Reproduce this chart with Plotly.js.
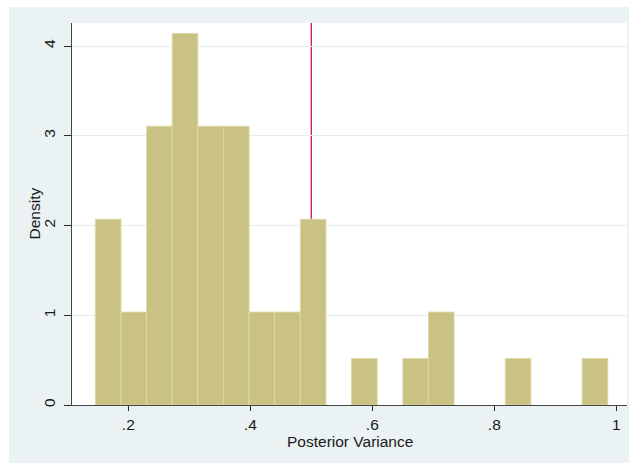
<!DOCTYPE html>
<html>
<head>
<meta charset="utf-8">
<script src="https://cdn.plot.ly/plotly-3.0.1.min.js"></script>
<style>
  html, body { margin: 0; padding: 0; background: #ffffff; }
  #chart { position: absolute; left: 9px; top: 7px; width: 620px; height: 456px; }
</style>
</head>
<body>
<div id="chart"></div>
<script>
// Histogram of posterior variance (20 bins of width 0.042, empty bins omitted)
const binCenters = [0.167, 0.209, 0.251, 0.293, 0.335, 0.377, 0.419, 0.461, 0.503, 0.587, 0.671, 0.713, 0.839, 0.965];
const density    = [2.070, 1.035, 3.106, 4.141, 3.106, 3.106, 1.035, 1.035, 2.070, 0.518, 0.518, 1.035, 0.518, 0.518];
const binWidth = 0.042;

// Reference line
const refValue = 0.5;

// Axis ticks
const xTickVals = [0.2, 0.4, 0.6, 0.8, 1];
const xTickText = ['.2', '.4', '.6', '.8', '1'];
const yTickVals = [0, 1, 2, 3, 4];
const yTickText = ['0', '1', '2', '3', '4'];

const font = { family: '"Liberation Sans", Arial, sans-serif', size: 15.5, color: '#1a1a1a' };

const trace = {
  type: 'bar',
  x: binCenters,
  y: density,
  width: binCenters.map(() => binWidth),
  marker: { color: '#cac282', line: { color: '#dcd8a6', width: 1 } },
  hoverinfo: 'x+y'
};

const layout = {
  width: 620,
  height: 456,
  margin: { l: 63, r: 2, t: 16, b: 58 },
  paper_bgcolor: '#eaf2f3',
  plot_bgcolor: '#ffffff',
  font: font,
  showlegend: false,
  bargap: 0,
  xaxis: {
    range: [0.1077, 1.0175],
    tickvals: xTickVals,
    ticktext: xTickText,
    ticks: 'outside',
    ticklen: 5,
    tickcolor: '#2a2a2a',
    showgrid: false,
    zeroline: false,
    showline: true,
    linecolor: '#444444',
    linewidth: 1,
    tickfont: font
  },
  yaxis: {
    range: [0, 4.257],
    tickvals: yTickVals,
    ticktext: yTickText,
    tickangle: -90,
    ticks: 'outside',
    ticklen: 7,
    tickcolor: '#2a2a2a',
    ticklabelstandoff: 3,
    showgrid: true,
    gridcolor: '#e4eced',
    gridwidth: 1,
    zeroline: false,
    showline: true,
    linecolor: '#444444',
    linewidth: 1,
    tickfont: font
  },
  annotations: [{
    text: 'Density',
    xref: 'paper', yref: 'paper',
    x: 0, y: 0.5,
    xanchor: 'center', yanchor: 'middle',
    xshift: -38.5,
    textangle: -90,
    showarrow: false,
    font: font
  }, {
    text: 'Posterior Variance',
    xref: 'paper', yref: 'paper',
    x: 0.5, y: 0,
    xanchor: 'center', yanchor: 'middle',
    yshift: -36,
    showarrow: false,
    font: font
  }],
  shapes: [{
    type: 'line',
    layer: 'below',
    xref: 'x', yref: 'paper',
    x0: refValue, x1: refValue, y0: 0, y1: 1,
    line: { color: '#c8173e', width: 1.3 }
  }]
};

Plotly.newPlot('chart', [trace], layout, { displayModeBar: false, staticPlot: true });
</script>
</body>
</html>
